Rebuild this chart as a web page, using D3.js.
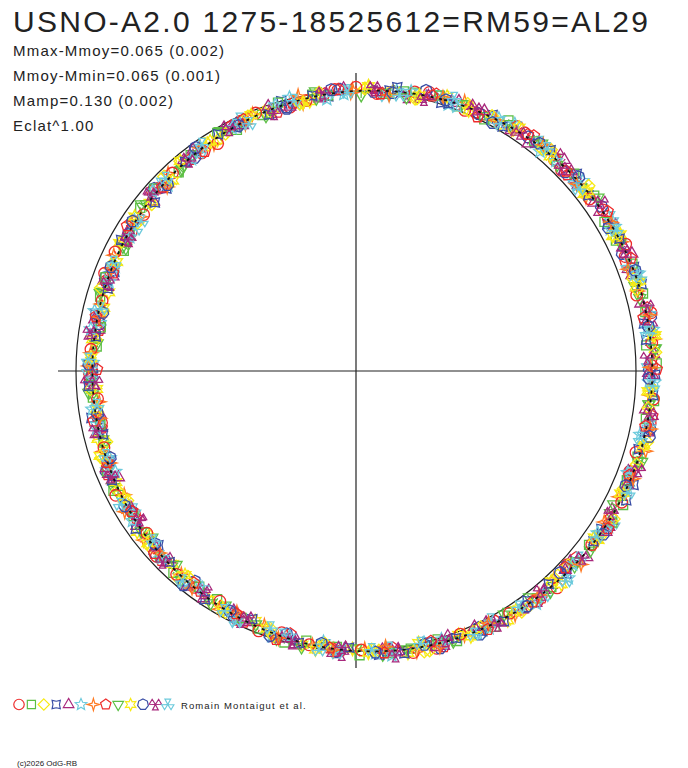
<!doctype html><html><head><meta charset="utf-8">
<style>body{margin:0;background:#fff}svg{display:block}text{font-family:"Liberation Sans",Arial,sans-serif}</style>
</head><body><script src='https://d3js.org/d3.v7.min.js'></script>
<script>
  // phase (0..1) and magnitude relative to the mean, two runs per symbol
  const ph1 = [0.012,0.041,0.069,0.098,0.127,0.158,0.186,0.219,0.247,0.278,0.306,0.337,0.368,0.394,0.423,0.455,0.482,0.513,0.544,0.571,0.602,0.631,0.659,0.692,0.718,0.749,0.781,0.809,0.838,0.869,0.902,0.931,0.961,0.988];
  const mg1 = [0.007,-0.032,-0.020,-0.047,-0.029,-0.059,-0.050,-0.083,-0.062,-0.075,-0.046,-0.063,-0.027,-0.053,-0.025,-0.035,0.002,0.003,0.032,0.018,0.040,0.031,0.066,0.055,0.081,0.053,0.068,0.041,0.063,0.044,0.051,0.019,0.032,-0.009];
  const ph2 = [0.027,0.058,0.087,0.121,0.149,0.176,0.208,0.236,0.266,0.297,0.324,0.352,0.383,0.411,0.443,0.469,0.498,0.529,0.558,0.587,0.617,0.646,0.677,0.706,0.734,0.765,0.795,0.826,0.853,0.884,0.916,0.944,0.975];
  const mg2 = [-0.015,-0.013,-0.053,-0.042,-0.063,-0.043,-0.069,-0.045,-0.078,-0.057,-0.075,-0.043,-0.045,-0.021,-0.033,-0.012,-0.017,0.023,0.017,0.051,0.031,0.056,0.038,0.070,0.062,0.078,0.054,0.074,0.038,0.055,0.018,0.029,0.001];
  const ph3 = [0.005,0.034,0.063,0.092,0.115,0.143,0.171,0.199,0.229,0.259,0.288,0.316,0.345,0.376,0.404,0.433,0.462,0.491,0.521,0.551,0.579,0.609,0.638,0.668,0.697,0.725,0.756,0.787,0.816,0.845,0.876,0.908,0.936,0.967];
  const mg3 = [-0.009,0.006,-0.038,-0.031,-0.060,-0.042,-0.059,-0.048,-0.074,-0.064,-0.079,-0.049,-0.060,-0.029,-0.049,-0.023,-0.035,0.004,0.006,0.034,0.023,0.057,0.036,0.069,0.046,0.071,0.056,0.081,0.056,0.064,0.027,0.039,0.014,0.028];
  const ph4 = [0.019,0.049,0.078,0.106,0.134,0.166,0.193,0.224,0.252,0.283,0.312,0.341,0.372,0.398,0.428,0.459,0.487,0.518,0.548,0.575,0.606,0.635,0.664,0.694,0.722,0.752,0.784,0.812,0.842,0.872,0.899,0.927,0.957,0.984];
  const mg4 = [-0.010,-0.006,-0.041,-0.039,-0.064,-0.045,-0.067,-0.047,-0.077,-0.060,-0.080,-0.047,-0.050,-0.026,-0.037,-0.001,-0.019,0.019,0.004,0.037,0.031,0.066,0.052,0.071,0.045,0.068,0.052,0.075,0.048,0.067,0.026,0.034,0.000,0.016];
  const ph5 = [0.008,0.037,0.066,0.094,0.124,0.152,0.181,0.213,0.241,0.271,0.302,0.329,0.358,0.387,0.417,0.447,0.476,0.506,0.535,0.564,0.594,0.624,0.652,0.683,0.712,0.741,0.771,0.802,0.831,0.861,0.891,0.921,0.949,0.979];
  const mg5 = [-0.009,0.002,-0.038,-0.032,-0.066,-0.045,-0.062,-0.050,-0.073,-0.048,-0.076,-0.045,-0.066,-0.035,-0.041,-0.003,-0.014,0.012,-0.005,0.028,0.025,0.061,0.046,0.079,0.050,0.070,0.047,0.071,0.055,0.064,0.031,0.032,0.005,0.020];
  const ph6 = [0.023,0.053,0.082,0.111,0.139,0.169,0.197,0.227,0.256,0.285,0.315,0.344,0.373,0.402,0.431,0.461,0.489,0.519,0.549,0.578,0.608,0.637,0.666,0.696,0.727,0.755,0.786,0.815,0.845,0.874,0.903,0.933,0.962,0.993];
  const mg6 = [-0.012,-0.008,-0.040,-0.026,-0.064,-0.045,-0.076,-0.057,-0.074,-0.045,-0.064,-0.044,-0.066,-0.035,-0.038,-0.001,-0.011,0.028,0.007,0.036,0.024,0.058,0.054,0.075,0.054,0.066,0.047,0.071,0.048,0.063,0.025,0.031,-0.005,0.011];
  const ph7 = [0.031,0.061,0.091,0.118,0.147,0.178,0.206,0.233,0.263,0.293,0.321,0.349,0.379,0.408,0.438,0.466,0.495,0.525,0.555,0.583,0.613,0.643,0.672,0.701,0.731,0.761,0.791,0.821,0.849,0.879,0.911,0.939,0.969,0.998];
  const mg7 = [-0.004,-0.042,-0.031,-0.054,-0.033,-0.062,-0.051,-0.080,-0.058,-0.082,-0.046,-0.058,-0.028,-0.045,-0.023,-0.028,0.008,0.009,0.038,0.021,0.048,0.034,0.069,0.058,0.085,0.057,0.066,0.046,0.061,0.029,0.049,0.012,0.028,-0.006];
  const ph8 = [0.015,0.045,0.073,0.103,0.131,0.162,0.189,0.216,0.244,0.274,0.309,0.333,0.362,0.391,0.419,0.451,0.479,0.509,0.539,0.567,0.598,0.627,0.656,0.687,0.715,0.745,0.775,0.805,0.834,0.865,0.894,0.925,0.953,0.982];
  const mg8 = [0.005,-0.033,-0.022,-0.059,-0.034,-0.060,-0.043,-0.072,-0.063,-0.078,-0.051,-0.057,-0.034,-0.052,-0.026,-0.037,0.003,0.000,0.036,0.019,0.041,0.034,0.062,0.044,0.077,0.053,0.079,0.054,0.065,0.030,0.044,0.020,0.038,0.004];
  const ph9 = [0.003,0.033,0.076,0.109,0.141,0.173,0.203,0.238,0.268,0.299,0.331,0.366,0.396,0.426,0.457,0.485,0.516,0.546,0.581,0.611,0.641,0.674,0.704,0.737,0.767,0.798,0.828,0.857,0.887,0.918,0.948,0.977];
  const mg9 = [0.016,-0.022,-0.028,-0.055,-0.041,-0.059,-0.046,-0.076,-0.059,-0.079,-0.045,-0.052,-0.020,-0.037,-0.014,-0.019,0.015,0.003,0.046,0.030,0.066,0.051,0.071,0.047,0.069,0.052,0.076,0.048,0.053,0.017,0.028,-0.011];
  const ph10 = [0.021,0.051,0.084,0.113,0.145,0.174,0.201,0.231,0.261,0.291,0.319,0.347,0.381,0.413,0.441,0.471,0.502,0.531,0.561,0.591,0.621,0.649,0.681,0.709,0.739,0.769,0.799,0.829,0.859,0.889,0.914,0.946,0.973];
  const mg10 = [-0.008,-0.037,-0.022,-0.048,-0.034,-0.070,-0.058,-0.085,-0.057,-0.066,-0.046,-0.061,-0.028,-0.048,-0.012,-0.027,0.008,0.004,0.042,0.031,0.055,0.033,0.062,0.052,0.080,0.058,0.082,0.044,0.056,0.025,0.043,0.020,0.025];
  const ph11 = [0.010,0.039,0.071,0.101,0.129,0.156,0.184,0.221,0.249,0.281,0.311,0.339,0.369,0.401,0.429,0.453,0.483,0.511,0.541,0.573,0.604,0.633,0.661,0.689,0.721,0.747,0.779,0.807,0.836,0.867,0.897,0.929,0.959,0.991];
  const mg11 = [0.000,-0.036,-0.020,-0.042,-0.034,-0.062,-0.044,-0.078,-0.053,-0.079,-0.053,-0.064,-0.029,-0.042,-0.018,-0.038,-0.004,-0.007,0.032,0.022,0.060,0.035,0.060,0.043,0.073,0.063,0.078,0.051,0.057,0.032,0.050,0.022,0.034,-0.008];
  const ph12 = [0.029,0.056,0.089,0.119,0.137,0.167,0.195,0.226,0.254,0.276,0.305,0.336,0.364,0.393,0.422,0.449,0.478,0.508,0.537,0.569,0.596,0.626,0.654,0.685,0.713,0.743,0.773,0.803,0.833,0.863,0.893,0.923,0.951,0.981];
  const mg12 = [0.004,-0.033,-0.029,-0.061,-0.037,-0.060,-0.041,-0.072,-0.062,-0.077,-0.053,-0.072,-0.035,-0.053,-0.016,-0.028,0.000,-0.015,0.019,0.017,0.056,0.043,0.064,0.045,0.070,0.045,0.077,0.056,0.073,0.040,0.043,0.016,0.030,0.007];
  const ph13 = [0.017,0.047,0.079,0.108,0.136,0.164,0.191,0.218,0.246,0.279,0.307,0.335,0.361,0.389,0.421,0.451,0.481,0.511,0.543,0.571,0.601,0.629,0.661,0.691,0.719,0.751,0.781,0.811,0.841,0.871,0.901,0.931,0.965,0.995];
  const mg13 = [0.013,-0.027,-0.028,-0.054,-0.041,-0.072,-0.047,-0.076,-0.050,-0.071,-0.052,-0.074,-0.046,-0.052,-0.012,-0.023,0.003,-0.011,0.024,0.008,0.051,0.042,0.072,0.052,0.066,0.051,0.074,0.059,0.071,0.036,0.044,0.010,0.026,-0.002];

  const ph1b = [0.033,0.063,0.093,0.120,0.149,0.180,0.208,0.235,0.265,0.295,0.323,0.351,0.381,0.410,0.440,0.468,0.497,0.527,0.557,0.585,0.615,0.645,0.674,0.703,0.733,0.763,0.793,0.823,0.851,0.881,0.913,0.941,0.971,0.000];
  const mg1b = [-0.021,-0.010,-0.052,-0.039,-0.041,-0.072,-0.043,-0.068,-0.075,-0.046,-0.065,-0.051,-0.063,-0.027,-0.012,-0.029,0.004,0.009,0.010,0.050,0.035,0.061,0.038,0.066,0.080,0.056,0.066,0.045,0.065,0.040,0.055,0.013,0.020,-0.015];
  const ph2b = [0.017,0.047,0.075,0.105,0.133,0.164,0.191,0.218,0.246,0.276,0.311,0.335,0.364,0.393,0.421,0.453,0.481,0.511,0.541,0.569,0.600,0.629,0.658,0.689,0.717,0.747,0.777,0.807,0.836,0.867,0.896,0.927,0.955,0.984];
  const mg2b = [0.005,-0.031,-0.010,-0.042,-0.057,-0.039,-0.066,-0.061,-0.083,-0.055,-0.048,-0.071,-0.044,-0.042,-0.044,-0.002,-0.016,0.014,-0.003,0.031,0.053,0.038,0.057,0.046,0.075,0.060,0.084,0.050,0.063,0.032,0.032,0.044,0.002,0.012];
  const ph3b = [0.005,0.035,0.078,0.111,0.143,0.175,0.205,0.240,0.270,0.301,0.333,0.368,0.398,0.428,0.459,0.487,0.518,0.548,0.583,0.613,0.643,0.676,0.706,0.739,0.769,0.800,0.830,0.859,0.889,0.920,0.950,0.979];
  const mg3b = [-0.011,0.003,-0.036,-0.039,-0.069,-0.049,-0.049,-0.080,-0.059,-0.063,-0.069,-0.030,-0.047,-0.019,-0.036,-0.002,0.022,0.010,0.035,0.028,0.063,0.053,0.082,0.054,0.072,0.046,0.049,0.065,0.025,0.037,0.032,-0.004];
  const ph4b = [0.023,0.053,0.086,0.115,0.147,0.176,0.203,0.233,0.263,0.293,0.321,0.349,0.383,0.415,0.443,0.473,0.504,0.533,0.563,0.593,0.623,0.651,0.683,0.711,0.741,0.771,0.801,0.831,0.861,0.891,0.916,0.948,0.975];
  const mg4b = [-0.027,-0.012,-0.020,-0.057,-0.045,-0.059,-0.074,-0.047,-0.072,-0.053,-0.078,-0.049,-0.029,-0.043,-0.021,-0.026,0.013,0.008,0.044,0.024,0.052,0.036,0.051,0.077,0.048,0.070,0.073,0.044,0.070,0.039,0.024,0.038,0.005];
  const ph5b = [0.012,0.041,0.073,0.103,0.131,0.158,0.186,0.223,0.251,0.283,0.313,0.341,0.371,0.403,0.431,0.455,0.485,0.513,0.543,0.575,0.606,0.635,0.663,0.691,0.723,0.749,0.781,0.809,0.838,0.869,0.899,0.931,0.961,0.993];
  const mg5b = [0.002,-0.017,-0.040,-0.021,-0.054,-0.044,-0.079,-0.060,-0.050,-0.073,-0.057,-0.069,-0.035,-0.043,-0.008,-0.030,0.000,-0.012,0.009,0.043,0.023,0.053,0.066,0.047,0.083,0.062,0.054,0.077,0.050,0.050,0.021,0.037,0.030,-0.011];
  const ph6b = [0.031,0.058,0.091,0.121,0.139,0.169,0.197,0.228,0.256,0.278,0.307,0.338,0.366,0.395,0.424,0.451,0.480,0.510,0.539,0.571,0.598,0.628,0.656,0.687,0.715,0.745,0.775,0.805,0.835,0.865,0.895,0.925,0.953,0.983];
  const mg6b = [-0.019,-0.012,-0.054,-0.040,-0.034,-0.065,-0.058,-0.078,-0.053,-0.069,-0.041,-0.067,-0.042,-0.057,-0.039,-0.007,-0.026,0.008,0.026,0.014,0.056,0.043,0.043,0.076,0.057,0.067,0.046,0.070,0.069,0.034,0.047,0.029,0.008,0.026];
  const ph7b = [0.019,0.049,0.081,0.110,0.138,0.166,0.193,0.220,0.248,0.281,0.309,0.337,0.363,0.391,0.423,0.453,0.483,0.513,0.545,0.573,0.603,0.631,0.663,0.693,0.721,0.753,0.783,0.813,0.843,0.873,0.903,0.933,0.967,0.997];
  const mg7b = [0.008,-0.028,-0.028,-0.055,-0.037,-0.061,-0.041,-0.075,-0.058,-0.080,-0.069,-0.042,-0.067,-0.037,-0.020,-0.033,0.011,0.001,0.007,0.044,0.032,0.049,0.037,0.070,0.077,0.050,0.070,0.059,0.043,0.065,0.031,0.037,-0.005,0.006];
  const ph8b = [0.014,0.043,0.071,0.100,0.129,0.160,0.188,0.221,0.249,0.280,0.308,0.339,0.370,0.396,0.425,0.457,0.484,0.515,0.546,0.573,0.604,0.633,0.661,0.694,0.720,0.751,0.783,0.811,0.840,0.871,0.904,0.933,0.963,0.990];
  const mg8b = [0.007,-0.022,-0.007,-0.049,-0.040,-0.071,-0.068,-0.050,-0.082,-0.059,-0.050,-0.069,-0.028,-0.043,-0.040,-0.002,-0.013,0.007,0.000,0.037,0.052,0.032,0.061,0.060,0.052,0.083,0.057,0.071,0.036,0.051,0.053,0.018,0.019,-0.009];
  const ph9b = [0.029,0.060,0.089,0.123,0.151,0.178,0.210,0.238,0.268,0.299,0.326,0.354,0.385,0.413,0.445,0.471,0.500,0.531,0.560,0.589,0.619,0.648,0.679,0.708,0.736,0.767,0.797,0.828,0.855,0.886,0.918,0.946,0.977];
  const mg9b = [0.006,-0.028,-0.045,-0.032,-0.071,-0.055,-0.052,-0.081,-0.059,-0.064,-0.040,-0.061,-0.056,-0.020,-0.029,-0.012,0.011,-0.006,0.030,0.024,0.062,0.048,0.043,0.071,0.062,0.079,0.050,0.063,0.032,0.054,0.026,0.038,0.018];
  const ph10b = [0.007,0.036,0.065,0.094,0.117,0.145,0.173,0.201,0.231,0.261,0.290,0.318,0.347,0.378,0.406,0.435,0.464,0.493,0.523,0.553,0.581,0.611,0.640,0.670,0.699,0.727,0.758,0.789,0.818,0.847,0.878,0.910,0.938,0.969];
  const mg10b = [-0.021,-0.011,-0.015,-0.052,-0.037,-0.053,-0.039,-0.071,-0.077,-0.050,-0.069,-0.059,-0.042,-0.064,-0.030,-0.037,0.004,-0.008,-0.006,0.030,0.028,0.055,0.038,0.062,0.041,0.075,0.058,0.079,0.068,0.040,0.063,0.031,0.014,0.026];
  const ph11b = [0.021,0.051,0.080,0.108,0.136,0.168,0.195,0.226,0.254,0.285,0.314,0.343,0.374,0.400,0.430,0.461,0.489,0.520,0.550,0.577,0.608,0.637,0.666,0.696,0.724,0.754,0.786,0.814,0.844,0.874,0.901,0.929,0.959,0.986];
  const mg11b = [-0.002,-0.022,-0.013,-0.049,-0.061,-0.041,-0.067,-0.063,-0.053,-0.082,-0.053,-0.065,-0.028,-0.043,-0.044,-0.008,-0.008,0.021,0.007,0.035,0.020,0.059,0.049,0.077,0.072,0.051,0.080,0.055,0.044,0.060,0.020,0.032,0.027,-0.009];
  const ph12b = [0.010,0.039,0.068,0.096,0.126,0.154,0.183,0.215,0.243,0.273,0.304,0.331,0.360,0.389,0.419,0.449,0.478,0.508,0.537,0.566,0.596,0.626,0.654,0.685,0.714,0.743,0.773,0.804,0.833,0.863,0.893,0.923,0.951,0.981];
  const mg12b = [-0.016,0.000,-0.032,-0.035,-0.034,-0.071,-0.052,-0.073,-0.046,-0.068,-0.077,-0.048,-0.054,-0.028,-0.044,-0.016,-0.030,0.013,0.007,0.041,0.044,0.032,0.070,0.054,0.052,0.078,0.045,0.065,0.067,0.034,0.047,0.029,0.039,0.000];
  const ph13b = [0.025,0.055,0.084,0.113,0.141,0.171,0.199,0.229,0.258,0.287,0.317,0.346,0.375,0.404,0.433,0.463,0.491,0.521,0.551,0.580,0.610,0.639,0.668,0.698,0.729,0.757,0.788,0.817,0.847,0.876,0.905,0.935,0.964,0.995];
  const mg13b = [0.003,-0.039,-0.025,-0.052,-0.031,-0.061,-0.076,-0.055,-0.068,-0.049,-0.072,-0.049,-0.067,-0.027,-0.034,0.000,0.004,-0.006,0.037,0.026,0.030,0.062,0.037,0.064,0.074,0.049,0.069,0.058,0.072,0.037,0.024,0.042,0.009,0.004];

  // typical error per symbol (mag)
  const errs = [0.005,0.005,0.020,0.005,0.005,0.010,0.016,0.005,0.012,0.024,0.005,0.007,0.010];

  // mean light curve (fit), tabulated
  const fitPhase = [0,0.05,0.10,0.15,0.20,0.25,0.30,0.35,0.40,0.45,0.50,0.55,0.60,0.65,0.70,0.75,0.80,0.85,0.90,0.95];
  const fitMag = [0,-0.0201,-0.0382,-0.0526,-0.0618,-0.065,-0.0618,-0.0526,-0.0382,-0.0201,0,0.0201,0.0382,0.0526,0.0618,0.065,0.0618,0.0526,0.0382,0.0201];

  const title = "USNO-A2.0 1275-18525612=RM59=AL29";
  const infoLines = ["Mmax-Mmoy=0.065 (0.002)", "Mmoy-Mmin=0.065 (0.001)", "Mamp=0.130 (0.002)", "Eclat^1.00"];

  const colors = ["#ee2b2b","#5cbf44","#f7ea14","#3a4ea6","#a8287c","#6ccadc","#ff7a22",
                  "#ee2b2b","#5cbf44","#f7ea14","#3a4ea6","#a8287c","#6ccadc"];

  const phs = [ph1.concat(ph1b), ph2.concat(ph2b), ph3.concat(ph3b), ph4.concat(ph4b), ph5.concat(ph5b),
               ph6.concat(ph6b), ph7.concat(ph7b), ph8.concat(ph8b), ph9.concat(ph9b), ph10.concat(ph10b),
               ph11.concat(ph11b), ph12.concat(ph12b), ph13.concat(ph13b)];
  const mgs = [mg1.concat(mg1b), mg2.concat(mg2b), mg3.concat(mg3b), mg4.concat(mg4b), mg5.concat(mg5b),
               mg6.concat(mg6b), mg7.concat(mg7b), mg8.concat(mg8b), mg9.concat(mg9b), mg10.concat(mg10b),
               mg11.concat(mg11b), mg12.concat(mg12b), mg13.concat(mg13b)];

  const width = 688, height = 768;
  const cx = 356, cy = 371, R0 = 280;

  var rScale = d3.scaleLinear().domain([-0.065, 0.065]).range([R0 + 16.3, R0 - 16.3]);
  var aScale = d3.scaleLinear().domain([0, 1]).range([0, 2 * Math.PI]);

  function pos(p, m) {
    var a = aScale(p), r = rScale(m);
    return [cx + r * Math.sin(a), cy - r * Math.cos(a)];
  }

  // symbol outlines
  function poly(n, r, rot) {
    var p = [];
    for (var i = 0; i < n; i++) {
      var a = (rot + 360 * i / n) * Math.PI / 180;
      p.push([r * Math.sin(a), -r * Math.cos(a)]);
    }
    return "M" + p.join("L") + "Z";
  }
  function star(n, ro, ri, rot) {
    var p = [];
    for (var i = 0; i < 2 * n; i++) {
      var a = (rot + 180 * i / n) * Math.PI / 180, r = i % 2 ? ri : ro;
      p.push([r * Math.sin(a), -r * Math.cos(a)]);
    }
    return "M" + p.join("L") + "Z";
  }
  function trefoil(rot) {
    var s = "";
    [0, 120, 240].forEach(function(c) {
      var a1 = (rot + c - 28) * Math.PI / 180, a2 = (rot + c + 28) * Math.PI / 180;
      s += "M0,0L" + [6.8 * Math.sin(a1), -6.8 * Math.cos(a1)] + "L" + [6.8 * Math.sin(a2), -6.8 * Math.cos(a2)] + "Z";
    });
    return s;
  }
  const shapes = [
    "M-5.8,0A5.8,5.8 0 1,0 5.8,0A5.8,5.8 0 1,0 -5.8,0Z",
    poly(4, 6.4, 45),
    poly(4, 6.3, 0),
    star(4, 6.5, 3.6, 45),
    poly(3, 6.8, 0),
    star(5, 6.8, 3.1, 0),
    star(4, 6.8, 2.1, 0),
    poly(5, 6.1, 0),
    poly(3, 6.8, 180),
    star(6, 6.7, 3.5, 0),
    poly(7, 6.1, 0),
    trefoil(60),
    trefoil(0)
  ];

  var svg = d3.select("body")
    .append("svg")
    .attr("width", width)
    .attr("height", height);

  // axes and reference circle
  svg.append("line").attr("x1", cx).attr("x2", cx).attr("y1", 73).attr("y2", 668)
    .attr("stroke", "#222").attr("stroke-width", 1.2);
  svg.append("line").attr("x1", 58).attr("x2", 655).attr("y1", cy).attr("y2", cy)
    .attr("stroke", "#222").attr("stroke-width", 1.2);
  svg.append("circle").attr("cx", cx).attr("cy", cy).attr("r", rScale(0))
    .attr("fill", "none").attr("stroke", "#222").attr("stroke-width", 1.2);

  // points, interleaved so the series mix like the original
  var pts = [];
  for (var j = 0; j < 68; j++) {
    phs.forEach(function(ph, k) {
      if (j < ph.length) pts.push({ k: k, p: ph[j], m: mgs[k][j] });
    });
  }

  var g = svg.selectAll("g.pt")
    .data(pts)
    .enter()
    .append("g")
    .attr("class", "pt");

  g.append("line")
    .attr("x1", function(d) { return pos(d.p, d.m - errs[d.k])[0]; })
    .attr("y1", function(d) { return pos(d.p, d.m - errs[d.k])[1]; })
    .attr("x2", function(d) { return pos(d.p, d.m + errs[d.k])[0]; })
    .attr("y2", function(d) { return pos(d.p, d.m + errs[d.k])[1]; })
    .attr("stroke", function(d) { return colors[d.k]; })
    .attr("stroke-width", 1.2);

  g.append("path")
    .attr("d", function(d) { return shapes[d.k]; })
    .attr("transform", function(d) { return "translate(" + pos(d.p, d.m) + ")"; })
    .attr("fill", "none")
    .attr("stroke", function(d) { return colors[d.k]; })
    .attr("stroke-width", 1.3);

  // mean curve
  var fit = fitPhase.map(function(p, i) { return [aScale(p), rScale(fitMag[i])]; });
  svg.append("path")
    .attr("transform", "translate(" + cx + "," + cy + ")")
    .attr("d", d3.lineRadial().curve(d3.curveCardinalClosed)(fit))
    .attr("fill", "none")
    .attr("stroke", "#111")
    .attr("stroke-width", 1.8)
    .attr("stroke-dasharray", "3,6");

  // texts
  svg.append("text").attr("x", 13).attr("y", 32)
    .attr("font-size", "30px").attr("fill", "#222")
    .attr("textLength", 635).attr("lengthAdjust", "spacing")
    .text(title);

  svg.selectAll("text.info")
    .data(infoLines)
    .enter()
    .append("text")
    .attr("class", "info")
    .attr("x", 13)
    .attr("y", function(d, i) { return 56 + i * 25; })
    .attr("font-size", "15px")
    .attr("letter-spacing", "1.2px")
    .attr("fill", "#222")
    .text(function(d) { return d; });

  // legend
  svg.selectAll("path.leg")
    .data(shapes)
    .enter()
    .append("path")
    .attr("class", "leg")
    .attr("d", function(d) { return d; })
    .attr("transform", function(d, i) { return "translate(" + (19 + i * 12.4) + ",704.5) scale(0.9)"; })
    .attr("fill", "none")
    .attr("stroke", function(d, i) { return colors[i]; })
    .attr("stroke-width", 1.3);

  svg.append("text").attr("x", 181).attr("y", 708.5)
    .attr("font-size", "9.5px").attr("letter-spacing", "1.1px").attr("fill", "#222")
    .text("Romain Montaigut et al.");

  svg.append("text").attr("x", 17).attr("y", 766)
    .attr("font-size", "8px").attr("fill", "#222")
    .text("(c)2026 OdG-RB");
</script></body></html>
